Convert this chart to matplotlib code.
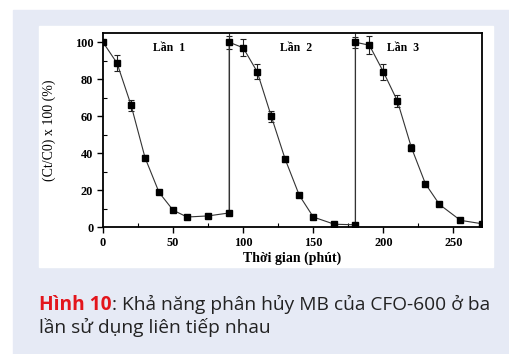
import numpy as np
import matplotlib
matplotlib.use("Agg")
from matplotlib import pyplot as plt
from matplotlib.patches import Rectangle

# three consecutive runs, joined into one trace
time = [0, 10, 20, 30, 40, 50, 60, 75, 90,
        90, 100, 110, 120, 130, 140, 150, 165, 180,
        180, 190, 200, 210, 220, 230, 240, 255, 270]
ratio = [100, 88.7, 66, 37.5, 18.7, 9.1, 5.4, 6, 7.6,
         100, 97, 84, 60, 36.6, 17.2, 5.4, 1.5, 1.2,
         100, 98.4, 84, 68.2, 43, 23.4, 12.2, 3.6, 1.8]
err = [0, 4.5, 3, 1.5, 0.8, 0, 0, 0, 0,
       3.6, 4.7, 4, 3, 1.5, 0, 0, 0, 0,
       3, 5, 4.3, 3.4, 2, 0, 0, 0, 0]

run_ends = [90, 180]
run_end_vals = [7.6, 1.2]
run_names = ["Lần  1", "Lần  2", "Lần  3"]
run_name_x = [47, 138, 214]

caption_red = "Hình 10"
caption_1 = ": Khả năng phân hủy MB của CFO-600 ở ba"
caption_2 = "lần sử dụng liên tiếp nhau"

W, H = 509, 354
fig = plt.figure(figsize=(W / 100, H / 100), dpi=100)
fig.patch.set_facecolor("white")

bg = "#e6eaf5"
fig.patches.append(Rectangle((13 / W, 0), (W - 13) / W, (H - 10) / H,
                             transform=fig.transFigure, color=bg, zorder=-2))
fig.patches.append(Rectangle((39 / W, (H - 267) / H), (493 - 39) / W, (267 - 26) / H,
                             transform=fig.transFigure, color="white", zorder=-1))

ax = fig.add_axes([103 / W, (H - 227) / H, (481.5 - 103) / W, (227 - 33) / H])
ax.set_facecolor("white")

serif = "Liberation Serif"

ax.plot(time, ratio, color="#333333", lw=0.8, marker="s", ms=5,
        mfc="black", mec="black", zorder=3)
e = np.array(err)
m = e > 0
ax.errorbar(np.array(time)[m], np.array(ratio)[m], yerr=e[m], fmt="none",
            ecolor="#222222", elinewidth=0.8, capsize=2.5, capthick=0.8, zorder=2)
ax.vlines(run_ends, run_end_vals, 105, color="#333333", lw=0.8, zorder=2)

for name, xp in zip(run_names, run_name_x):
    ax.text(xp, 97, name, ha="center", va="center", family=serif,
            fontweight="bold", fontsize=8.5)

ax.set_xlim(0, 270)
ax.set_ylim(0, 105)
ax.set_xticks([0, 50, 100, 150, 200, 250])
ax.set_xticks([25, 75, 125, 175, 225], minor=True)
ax.set_yticks([0, 20, 40, 60, 80, 100])
ax.set_yticks([10, 30, 50, 70, 90], minor=True)
ax.tick_params(which="major", direction="out", length=4.5, width=1, pad=2.5)
ax.tick_params(which="minor", direction="in", length=3, width=0.8)
for lab in ax.get_xticklabels() + ax.get_yticklabels():
    lab.set_family(serif)
    lab.set_fontweight("bold")
    lab.set_fontsize(8.8)
for s in ax.spines.values():
    s.set_linewidth(1.3)

ax.set_ylabel("(Ct/C0) x 100 (%)", family=serif, fontsize=10)
ax.yaxis.set_label_coords(-0.125, 0.5)
ax.set_xlabel("Thời gian (phút)", family=serif, fontweight="bold", fontsize=10)
ax.xaxis.set_label_coords(0.5, -0.125)

cap_font = "Open Sans"
cap_size = 13.8
t1 = fig.text(39 / W, 1 - 310 / H, caption_red, color="#e3151c", fontweight="bold",
              family=cap_font, fontsize=cap_size, va="baseline")
fig.canvas.draw()
ext = t1.get_window_extent()
fig.text(ext.x1 / W, 1 - 310 / H, caption_1, color="#222222",
         family=cap_font, fontsize=cap_size, va="baseline")
fig.text(39 / W, 1 - 333 / H, caption_2, color="#222222",
         family=cap_font, fontsize=cap_size, va="baseline")

fig.savefig("out.png", dpi=100)
